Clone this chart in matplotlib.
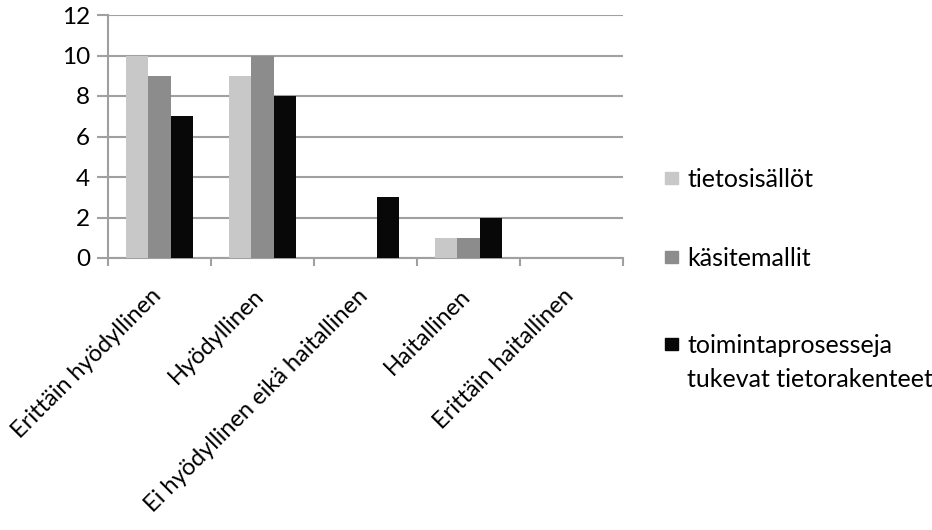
import matplotlib.pyplot as plt
from matplotlib.patches import Rectangle
from matplotlib.transforms import ScaledTranslation
import numpy as np

plt.rcParams['font.family'] = ['Lato', 'DejaVu Sans']

categories = ['Erittäin hyödyllinen', 'Hyödyllinen', 'Ei hyödyllinen eikä haitallinen',
              'Haitallinen', 'Erittäin haitallinen']
tietosisallot = [10, 9, 0, 1, 0]
kasitemallit = [9, 10, 0, 1, 0]
toimintaprosessit = [7, 8, 3, 2, 0]

series = [
    ('tietosisällöt', tietosisallot, '#c8c8c8'),
    ('käsitemallit', kasitemallit, '#8c8c8c'),
    ('toimintaprosesseja\ntukevat tietorakenteet', toimintaprosessit, '#080808'),
]

W, H = 932, 530
fs = 18
fig = plt.figure(figsize=(W / 100, H / 100), dpi=100)
ax = fig.add_axes([108 / W, 1 - 258 / H, 515 / W, 243 / H])

x = np.arange(len(categories))
w = 0.22
for i, (name, vals, col) in enumerate(series):
    ax.bar(x + (i - 1) * w, vals, width=w, color=col, label=name, zorder=3)

grid_col = '#a0a0a0'
ax.set_ylim(0, 12)
ax.set_yticks(range(0, 13, 2))
ax.set_xlim(-0.5, len(categories) - 0.5)
ax.yaxis.grid(True, color=grid_col, linewidth=1.5, zorder=0)

for s in ['top', 'right']:
    ax.spines[s].set_visible(False)
for s in ['left', 'bottom']:
    ax.spines[s].set_color(grid_col)
    ax.spines[s].set_linewidth(1.5)

ax.tick_params(axis='y', length=8, width=1.5, color=grid_col, labelsize=17.5, pad=5)
# category separators as major ticks, names on minor ticks
ax.set_xticks(np.arange(len(categories) + 1) - 0.5)
ax.set_xticklabels([])
ax.tick_params(axis='x', length=6, width=1.5, color=grid_col)
ax.set_xticks(x, minor=True)
ax.set_xticklabels(categories, minor=True, rotation=45, ha='right',
                   rotation_mode='anchor', fontsize=17)
ax.tick_params(axis='x', which='minor', length=0, pad=16)
shift = ScaledTranslation(-9 / 100, -5 / 100, fig.dpi_scale_trans)
for lab in ax.get_xticklabels(minor=True):
    lab.set_transform(lab.get_transform() + shift)

# legend on the right, handle next to the first text line
baselines = [187, 266, 353]
for (name, vals, col), yb in zip(series, baselines):
    fig.add_artist(Rectangle((665 / W, 1 - (yb - 3) / H), 13 / W, 12 / H,
                             transform=fig.transFigure, color=col))
    for k, line in enumerate(name.split('\n')):
        fig.text(687 / W, 1 - (yb + 34 * k) / H, line, fontsize=fs,
                 va='baseline', ha='left')

plt.savefig('out.png', dpi=100)
